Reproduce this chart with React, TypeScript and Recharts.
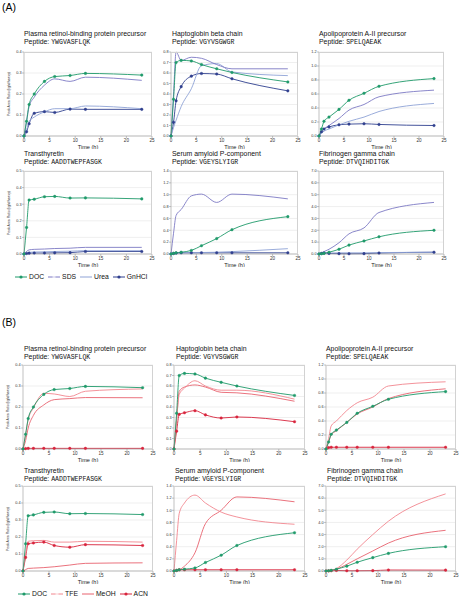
import React from "react";
import { LineChart, Line, XAxis, YAxis, CartesianGrid } from "recharts";

// sampling times (h)
const TIME = [0, 0.5, 1, 2, 4, 6, 9, 12, 23];
const X_TICKS = [0, 5, 10, 15, 20, 25];

// y ticks per protein
const RBP_TICKS = [0, 0.1, 0.2, 0.3, 0.4];
const HP_TICKS = [0, 0.1, 0.2, 0.3, 0.4, 0.5, 0.6, 0.7, 0.8];
const APO_TICKS = [0, 0.2, 0.4, 0.6, 0.8, 1.0, 1.2];
const TTR_TICKS = [0, 0.1, 0.2, 0.3, 0.4, 0.5];
const SAP_TICKS = [0, 0.2, 0.4, 0.6, 0.8, 1.0, 1.2, 1.4];
const FGG_TICKS = [0, 1, 2, 3, 4, 5, 6, 7];

// (A) DOC vs SDS / Urea / GnHCl
const A_RBP = {
  DOC: [0, 0.07, 0.15, 0.2, 0.26, 0.283, 0.288, 0.298, 0.29],
  SDS: [0, 0.07, 0.14, 0.185, 0.242, 0.272, 0.26, 0.28, 0.265],
  Urea: [0, 0.03, 0.07, 0.09, 0.115, 0.13, 0.13, 0.143, 0.13],
  GnHCl: [0, 0.02, 0.058, 0.108, 0.116, 0.112, 0.128, 0.127, 0.127],
};
const A_HP = {
  DOC: [0, 0.35, 0.7, 0.72, 0.715, 0.68, 0.64, 0.605, 0.515],
  SDS: [0, 0.4, 0.8, 0.72, 0.75, 0.74, 0.68, 0.64, 0.64],
  Urea: [0, 0.08, 0.15, 0.28, 0.45, 0.67, 0.69, 0.61, 0.575],
  GnHCl: [0, 0.13, 0.335, 0.47, 0.57, 0.595, 0.59, 0.545, 0.43],
};
const A_APO = {
  DOC: [0, 0.1, 0.21, 0.27, 0.38, 0.51, 0.61, 0.71, 0.82],
  SDS: [0, 0.06, 0.1, 0.15, 0.25, 0.37, 0.45, 0.56, 0.655],
  Urea: [0, 0.04, 0.07, 0.1, 0.16, 0.21, 0.27, 0.35, 0.465],
  GnHCl: [0, 0.06, 0.1, 0.13, 0.16, 0.17, 0.175, 0.165, 0.15],
};
const A_TTR = {
  DOC: [0, 0.16, 0.325, 0.33, 0.345, 0.347, 0.337, 0.338, 0.332],
  SDS: [0, 0.015, 0.025, 0.028, 0.03, 0.033, 0.035, 0.04, 0.04],
  Urea: [0, 0.005, 0.01, 0.012, 0.013, 0.015, 0.017, 0.02, 0.02],
  GnHCl: [0, 0.003, 0.005, 0.006, 0.006, 0.007, 0.008, 0.015, 0.015],
};
const A_SAP = {
  DOC: [0, 0.01, 0.02, 0.03, 0.06, 0.14, 0.26, 0.41, 0.63],
  SDS: [0, 0.35, 0.65, 0.75, 0.98, 1.01, 0.87, 1.01, 0.93],
  Urea: [0, 0.01, 0.02, 0.02, 0.02, 0.025, 0.03, 0.04, 0.09],
  GnHCl: [0, 0.01, 0.015, 0.02, 0.02, 0.02, 0.02, 0.02, 0.02],
};
const A_FGG = {
  DOC: [0, 0.02, 0.05, 0.15, 0.4, 0.75, 1.1, 1.45, 2.0],
  SDS: [0, 0.1, 0.2, 0.4, 0.95, 1.7, 2.2, 3.5, 4.35],
  Urea: [0, 0.02, 0.05, 0.08, 0.1, 0.1, 0.1, 0.12, 0.15],
  GnHCl: [0, 0.05, 0.08, 0.05, 0.03, 0.02, 0.03, 0.08, 0.15],
};

// (B) DOC vs TFE / MeOH / ACN
const B_RBP = {
  DOC: [0, 0.07, 0.145, 0.2, 0.26, 0.283, 0.288, 0.298, 0.292],
  TFE: [0, 0.07, 0.14, 0.195, 0.265, 0.262, 0.25, 0.275, 0.286],
  MeOH: [0, 0.04, 0.1, 0.16, 0.21, 0.235, 0.24, 0.245, 0.244],
  ACN: [0, 0.002, 0.003, 0.003, 0.003, 0.003, 0.003, 0.003, 0.003],
};
const B_HP = {
  DOC: [0, 0.34, 0.7, 0.72, 0.715, 0.675, 0.635, 0.6, 0.51],
  TFE: [0, 0.28, 0.52, 0.58, 0.65, 0.6, 0.56, 0.56, 0.475],
  MeOH: [0, 0.28, 0.55, 0.59, 0.61, 0.59, 0.54, 0.535, 0.455],
  ACN: [0, 0.17, 0.33, 0.345, 0.365, 0.325, 0.295, 0.305, 0.26],
};
const B_APO = {
  DOC: [0, 0.1, 0.21, 0.27, 0.38, 0.51, 0.61, 0.71, 0.82],
  TFE: [0, 0.15, 0.33, 0.4, 0.55, 0.66, 0.74, 0.9, 0.96],
  MeOH: [0, 0.1, 0.2, 0.26, 0.38, 0.5, 0.6, 0.72, 0.86],
  ACN: [0, 0.02, 0.025, 0.025, 0.025, 0.025, 0.025, 0.025, 0.025],
};
const B_TTR = {
  DOC: [0, 0.16, 0.325, 0.33, 0.345, 0.347, 0.337, 0.338, 0.332],
  TFE: [0, 0.1, 0.175, 0.178, 0.18, 0.17, 0.17, 0.175, 0.17],
  MeOH: [0, 0.008, 0.015, 0.017, 0.02, 0.025, 0.035, 0.045, 0.048],
  ACN: [0, 0.08, 0.16, 0.165, 0.17, 0.15, 0.14, 0.155, 0.15],
};
const B_SAP = {
  DOC: [0, 0.01, 0.02, 0.03, 0.05, 0.14, 0.26, 0.42, 0.63],
  TFE: [0, 0.5, 0.95, 1.12, 1.25, 1.12, 0.97, 0.89, 0.77],
  MeOH: [0, 0.01, 0.02, 0.08, 0.3, 0.78, 1.0, 1.22, 1.14],
  ACN: [0, 0.01, 0.02, 0.02, 0.02, 0.02, 0.02, 0.02, 0.02],
};
const B_FGG = {
  DOC: [0, 0.02, 0.05, 0.15, 0.4, 0.72, 1.1, 1.45, 2.0],
  TFE: [0, 0.02, 0.05, 0.2, 0.9, 1.8, 3.0, 4.1, 6.35],
  MeOH: [0, 0.02, 0.05, 0.15, 0.55, 1.0, 1.65, 2.3, 3.35],
  ACN: [0, 0.01, 0.02, 0.05, 0.02, 0.02, 0.03, 0.08, 0.07],
};

const PROTEINS = [
  { title: "Plasma retinol-binding protein precursor", peptide: "YWGVASFLQK", ticks: RBP_TICKS },
  { title: "Haptoglobin beta chain", peptide: "VGYVSGWGR", ticks: HP_TICKS },
  { title: "Apolipoprotein A-II precursor", peptide: "SPELQAEAK", ticks: APO_TICKS },
  { title: "Transthyretin", peptide: "AADDTWEPFASGK", ticks: TTR_TICKS },
  { title: "Serum amyloid P-component", peptide: "VGEYSLYIGR", ticks: SAP_TICKS },
  { title: "Fibrinogen gamma chain", peptide: "DTVQIHDITGK", ticks: FGG_TICKS },
];

const GREEN = "#1f9a6a";

type Series = { key: string; color: string; dot: "fill" | "dash" | "none" };

const SERIES_A: Series[] = [
  { key: "DOC", color: GREEN, dot: "fill" },
  { key: "SDS", color: "#7d79c4", dot: "dash" },
  { key: "Urea", color: "#8fa3d6", dot: "none" },
  { key: "GnHCl", color: "#2f3f8e", dot: "fill" },
];
const SERIES_B: Series[] = [
  { key: "DOC", color: GREEN, dot: "fill" },
  { key: "TFE", color: "#f2868e", dot: "dash" },
  { key: "MeOH", color: "#e8626e", dot: "none" },
  { key: "ACN", color: "#d8243c", dot: "fill" },
];

const SANS = "'Liberation Sans', Arial, sans-serif";
const MONO = "'Liberation Mono', 'DejaVu Sans Mono', monospace";

interface Box {
  x: number;
  y: number;
  w: number;
  h: number;
  tx: number;
  ty: number;
}

// plot-area boxes, row-major, 6 per panel
const LAYOUT_A: Box[] = [
  { x: 24, y: 52, w: 128, h: 84, tx: 24, ty: 30 },
  { x: 171, y: 52, w: 127, h: 84, tx: 172, ty: 30 },
  { x: 319, y: 52, w: 125, h: 84, tx: 319, ty: 30 },
  { x: 24, y: 171, w: 128, h: 83, tx: 24, ty: 150 },
  { x: 171, y: 171, w: 127, h: 83, tx: 172, ty: 150 },
  { x: 319, y: 171, w: 125, h: 83, tx: 319, ty: 150 },
];
const LAYOUT_B: Box[] = [
  { x: 23, y: 365, w: 130, h: 84, tx: 24, ty: 345 },
  { x: 174, y: 365, w: 131, h: 84, tx: 176, ty: 345 },
  { x: 326, y: 365, w: 130, h: 84, tx: 326, ty: 345 },
  { x: 23, y: 486, w: 130, h: 85, tx: 24, ty: 467 },
  { x: 174, y: 486, w: 131, h: 85, tx: 175, ty: 467 },
  { x: 326, y: 486, w: 130, h: 85, tx: 327, ty: 467 },
];

const YW = 14;
const MT = 2;
const MR = 3;
const XH = 13;

function dotFor(s: Series) {
  if (s.dot !== "fill") return false;
  return { r: 1.3, fill: s.color, stroke: s.color, strokeWidth: 0.4 };
}

function SmallChart({
  box,
  protein,
  values,
  series,
  yLabel,
}: {
  box: Box;
  protein: (typeof PROTEINS)[number];
  values: Record<string, number[]>;
  series: Series[];
  yLabel: boolean;
}) {
  const data = TIME.map((t, i) => {
    const row: Record<string, number> = { t };
    series.forEach((s) => (row[s.key] = values[s.key][i]));
    return row;
  });
  const ticks = protein.ticks;
  const yMax = ticks[ticks.length - 1];
  return (
    <>
      <div
        style={{
          position: "absolute",
          left: box.tx,
          top: box.ty,
          fontFamily: SANS,
          fontSize: 6.9,
          lineHeight: "8px",
          color: "#111",
          whiteSpace: "nowrap",
        }}
      >
        <div>{protein.title}</div>
        <div>
          Peptide: <span style={{ fontFamily: MONO, fontSize: 6.5 }}>{protein.peptide}</span>
        </div>
      </div>
      {yLabel && (
        <div
          style={{
            position: "absolute",
            left: box.x - 15,
            top: box.y + box.h / 2,
            transform: "translate(-50%, -50%) rotate(-90deg)",
            fontFamily: SANS,
            fontSize: 3.4,
            color: "#333",
            whiteSpace: "nowrap",
          }}
        >
          Peak Area Ratio (light/heavy)
        </div>
      )}
      <div style={{ position: "absolute", left: box.x - YW, top: box.y - MT }}>
        <LineChart
          width={box.w + YW + MR}
          height={box.h + MT + XH}
          data={data}
          margin={{ top: MT, right: MR, left: 0, bottom: 0 }}
        >
          <CartesianGrid vertical={false} stroke="#e4e4e4" strokeWidth={0.6} />
          <XAxis
            dataKey="t"
            type="number"
            domain={[0, 25]}
            ticks={X_TICKS}
            height={XH}
            tickSize={2}
            tickMargin={0.5}
            stroke="#999"
            strokeWidth={0.6}
            tick={{ fontSize: 4.6, fill: "#333", fontFamily: SANS }}
            label={{
              value: "Time (h)",
              position: "insideBottom",
              offset: 0,
              fontSize: 5.6,
              fill: "#222",
              fontFamily: SANS,
            }}
          />
          <YAxis
            type="number"
            domain={[0, yMax]}
            ticks={ticks}
            width={YW}
            tickSize={2}
            tickMargin={0.5}
            stroke="#999"
            strokeWidth={0.6}
            interval={0}
            tickFormatter={(v: number) => v.toFixed(1)}
            tick={{ fontSize: 3.8, fill: "#333", fontFamily: SANS }}
          />
          {series
            .slice()
            .reverse()
            .map((s) => (
              <Line
                key={s.key}
                dataKey={s.key}
                type="monotone"
                stroke={s.color}
                strokeWidth={0.9}
                dot={dotFor(s)}
                activeDot={false}
                isAnimationActive={false}
              />
            ))}
        </LineChart>
      </div>
      <div
        style={{
          position: "absolute",
          left: box.x,
          top: box.y,
          width: box.w,
          height: box.h,
          borderTop: "0.6px solid #d2d2d2",
          borderRight: "0.6px solid #d2d2d2",
          boxSizing: "border-box",
          pointerEvents: "none",
        }}
      />
    </>
  );
}

function LegendRow({ series, top, left }: { series: Series[]; top: number; left: number }) {
  return (
    <div
      style={{
        position: "absolute",
        left,
        top,
        display: "flex",
        alignItems: "center",
        fontFamily: SANS,
        fontSize: 6.8,
        color: "#111",
        whiteSpace: "nowrap",
      }}
    >
      {series.map((s) => (
        <div key={s.key} style={{ display: "flex", alignItems: "center", marginRight: 4 }}>
          <svg width={12} height={6} style={{ marginRight: 2 }}>
            <line x1={0} y1={3} x2={12} y2={3} stroke={s.color} strokeWidth={1} />
            {s.dot === "fill" && <circle cx={6} cy={3} r={1.6} fill={s.color} />}
            {s.dot === "dash" && <line x1={4.5} y1={3} x2={7.5} y2={3} stroke="#fff" strokeWidth={1.2} />}
          </svg>
          <span>{s.key}</span>
        </div>
      ))}
    </div>
  );
}

const A_VALUES = [A_RBP, A_HP, A_APO, A_TTR, A_SAP, A_FGG];
const B_VALUES = [B_RBP, B_HP, B_APO, B_TTR, B_SAP, B_FGG];

export default function App() {
  return (
    <div
      style={{
        position: "absolute",
        left: 0,
        top: 0,
        width: 462,
        height: 600,
        background: "#fff",
        overflow: "hidden",
      }}
    >
      <div style={{ position: "absolute", left: 2, top: 1, fontFamily: SANS, fontSize: 10.5 }}>(A)</div>
      <div style={{ position: "absolute", left: 2, top: 316, fontFamily: SANS, fontSize: 10.5 }}>(B)</div>
      {PROTEINS.map((p, i) => (
        <SmallChart
          key={`a-${i}`}
          box={LAYOUT_A[i]}
          protein={p}
          values={A_VALUES[i]}
          series={SERIES_A}
          yLabel={i % 3 === 0}
        />
      ))}
      {PROTEINS.map((p, i) => (
        <SmallChart
          key={`b-${i}`}
          box={LAYOUT_B[i]}
          protein={p}
          values={B_VALUES[i]}
          series={SERIES_B}
          yLabel={i % 3 === 0}
        />
      ))}
      <LegendRow series={SERIES_A} top={273} left={15} />
      <LegendRow series={SERIES_B} top={590} left={18} />
    </div>
  );
}
